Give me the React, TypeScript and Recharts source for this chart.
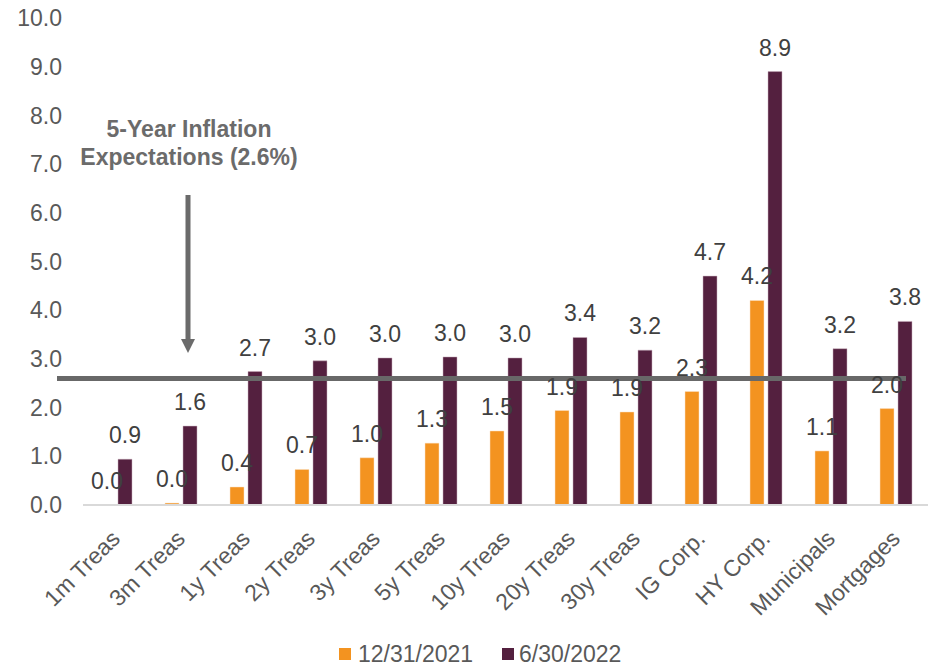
import { BarChart, Bar, XAxis, YAxis, ReferenceLine, LabelList, Customized } from 'recharts';

const categories = ['1m Treas', '3m Treas', '1y Treas', '2y Treas', '3y Treas', '5y Treas', '10y Treas', '20y Treas', '30y Treas', 'IG Corp.', 'HY Corp.', 'Municipals', 'Mortgages'];
const dec2021 = [0.01, 0.04, 0.37, 0.73, 0.97, 1.27, 1.52, 1.94, 1.91, 2.33, 4.2, 1.11, 1.98];
const jun2022 = [0.94, 1.62, 2.74, 2.96, 3.02, 3.04, 3.02, 3.44, 3.18, 4.7, 8.9, 3.21, 3.77];
const yTicks = [0, 1, 2, 3, 4, 5, 6, 7, 8, 9, 10];
const inflationExp = 2.6;

const ORANGE = '#F39320';
const PURPLE = '#54203F';
const FONT = '"Liberation Sans", Arial, sans-serif';
const FS = 23;

const data = categories.map((name, i) => ({ name, d2021: dec2021[i], d2022: jun2022[i] }));

const XTick = ({ x, y, payload }: { x?: number; y?: number; payload?: { value: string } }) => (
  <g transform={`translate(${(x ?? 0) + 6},${(y ?? 0) + 35})`}>
    <text transform="rotate(-45)" textAnchor="end" fontSize={FS} fill="#595959" fontFamily={FONT}>
      {payload?.value}
    </text>
  </g>
);

const Annotation = () => (
  <g fontFamily={FONT}>
    <text x={189} y={137} textAnchor="middle" fontSize={FS} fontWeight="bold" fill="#6b6b6b">5-Year Inflation</text>
    <text x={189} y={165} textAnchor="middle" fontSize={FS} fontWeight="bold" fill="#6b6b6b">Expectations (2.6%)</text>
    <line x1={188} y1={195} x2={188} y2={340} stroke="#6b6b6b" strokeWidth={5} />
    <polygon points="181,339 195,339 188,353" fill="#6b6b6b" />
  </g>
);

const Legend = () => (
  <svg width={934} height={30} style={{ position: 'absolute', left: 0, top: 636 }}>
    <rect x={339} y={12} width={12} height={12} fill={ORANGE} />
    <text x={358} y={26} fontSize={FS} fill="#595959" fontFamily={FONT}>12/31/2021</text>
    <rect x={502} y={12} width={12} height={12} fill={PURPLE} />
    <text x={519} y={26} fontSize={FS} fill="#595959" fontFamily={FONT}>6/30/2022</text>
  </svg>
);

const fmt = (v: unknown) => Number(v).toFixed(1);

export default function App() {
  return (
    <div style={{ position: 'absolute', left: 0, top: 0, width: 934, height: 668, background: '#fff', fontFamily: FONT }}>
      <BarChart width={934} height={668} data={data} margin={{ top: 18, right: 6, left: 0, bottom: 63 }} barSize={14} barGap={4}>
        <XAxis dataKey="name" interval={0} height={100} tickLine={false} tickSize={0} tickMargin={0}
          axisLine={{ stroke: '#d9d9d9', strokeWidth: 2 }} tick={<XTick />} />
        <YAxis domain={[0, 10]} ticks={yTicks} width={83} axisLine={false} tickLine={false} tickSize={0} tickMargin={21}
          tickFormatter={fmt} tick={{ fontSize: FS, fill: '#595959', fontFamily: FONT }} />
        <Bar dataKey="d2021" fill={ORANGE} stroke="#fbe3c8" strokeWidth={0.5} isAnimationActive={false}>
          <LabelList dataKey="d2021" position="top" offset={16} formatter={fmt} fontSize={FS} fill="#404040" fontFamily={FONT} />
        </Bar>
        <Bar dataKey="d2022" fill={PURPLE} stroke="#c9aebd" strokeWidth={0.5} isAnimationActive={false}>
          <LabelList dataKey="d2022" position="top" offset={16} formatter={fmt} fontSize={FS} fill="#404040" fontFamily={FONT} />
        </Bar>
        <ReferenceLine y={inflationExp} ifOverflow="visible"
          shape={(p: { x1?: number; x2?: number; y1?: number; y2?: number }) => (
            <line x1={(p.x1 ?? 0) - 26} x2={(p.x2 ?? 0) - 22} y1={p.y1} y2={p.y2} stroke="#686868" strokeWidth={5} />
          )} />
        <Customized component={<Annotation />} />
      </BarChart>
      <Legend />
    </div>
  );
}
